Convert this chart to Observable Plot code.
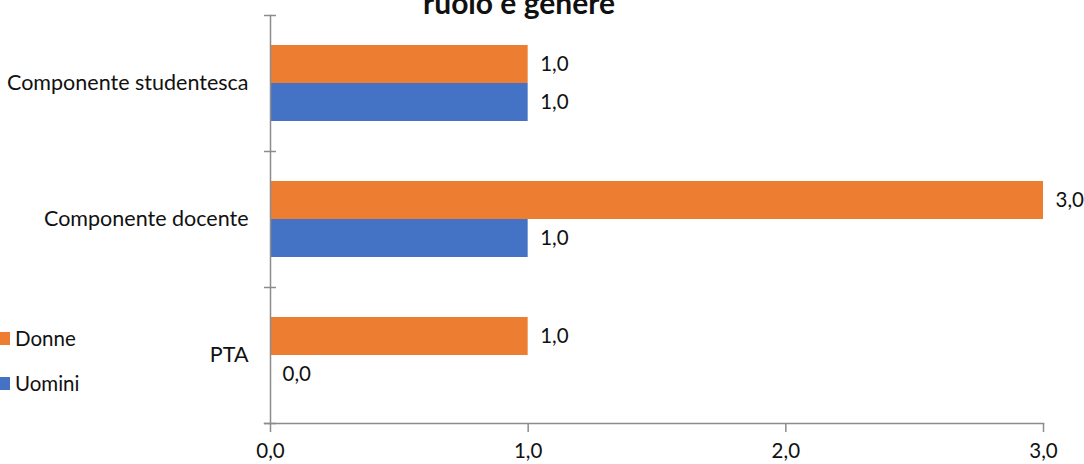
<!DOCTYPE html>
<html>
<head>
<meta charset="utf-8">
<script src="https://cdn.jsdelivr.net/npm/d3@7"></script>
<script src="https://cdn.jsdelivr.net/npm/@observablehq/plot@0.6"></script>
<style>
  html, body { margin: 0; padding: 0; background: #fff; overflow: hidden; }
  #wrap { position: relative; width: 1084px; height: 464px; font-family: Lato, "Open Sans", sans-serif; color: #111; }
  #title { position: absolute; left: 0; width: 1038px; top: -13px; text-align: center; font-weight: bold; font-size: 30px; line-height: 30px; }
  .leg { position: absolute; left: 15px; font-size: 20.5px; line-height: 20px; }
  .sw { position: absolute; left: -17px; top: 4px; width: 12px; height: 13px; }
</style>
</head>
<body>
<div id="wrap">
  <div id="chart"></div>
  <div id="title">ruolo e genere</div>
  <div class="leg" style="top:328px"><span class="sw" style="background:#ED7D31"></span>Donne</div>
  <div class="leg" style="top:373px"><span class="sw" style="background:#4472C4"></span>Uomini</div>
</div>
<script>
const categories = ["Componente studentesca", "Componente docente", "PTA"];
const donne = [1.0, 3.0, 1.0];
const uomini = [1.0, 1.0, 0.0];
const xTicks = [0, 1, 2, 3];
const genders = ["Donne", "Uomini"];
const colors = ["#ED7D31", "#4472C4"];

const rows = [];
categories.forEach((c, i) => {
  rows.push({cat: c, gen: "Donne", val: donne[i]});
  rows.push({cat: c, gen: "Uomini", val: uomini[i]});
});

const W = 1084, H = 464, ML = 270, MR = 41, MT = 15, MB = 41;
const step = (H - MT - MB) / categories.length;
const pxPerUnit = (W - ML - MR) / (xTicks[xTicks.length - 1] - xTicks[0]);
const tickU = 6 / pxPerUnit;
const fmt = d => d.toFixed(1).replace(".", ",");
const axisGray = "#8c8c8c";
const lastCat = categories[categories.length - 1];

const plot = Plot.plot({
  width: W, height: H,
  marginLeft: ML, marginRight: MR, marginTop: MT, marginBottom: MB,
  style: {fontFamily: "Lato, 'Open Sans', sans-serif", fontSize: "21px", color: "#111", background: "#fff"},
  x: {domain: [xTicks[0], xTicks[xTicks.length - 1]]},
  y: {domain: categories, padding: 0},
  color: {domain: genders, range: colors},
  marks: [
    Plot.barX(rows.filter(d => d.gen === "Donne"), {x: "val", y: "cat", fill: "gen", insetTop: 30, insetBottom: step - 68}),
    Plot.barX(rows.filter(d => d.gen === "Uomini"), {x: "val", y: "cat", fill: "gen", insetTop: 68, insetBottom: step - 106}),
    Plot.text(rows.filter(d => d.gen === "Donne"), {x: "val", y: "cat", text: d => fmt(d.val), dy: -(step / 2 - 49), dx: 12, textAnchor: "start", fontSize: 20.5}),
    Plot.text(rows.filter(d => d.gen === "Uomini"), {x: "val", y: "cat", text: d => fmt(d.val), dy: -(step / 2 - 87), dx: 12, textAnchor: "start", fontSize: 20.5}),
    Plot.frame({anchor: "left", stroke: axisGray, strokeWidth: 1.5}),
    Plot.frame({anchor: "bottom", stroke: axisGray, strokeWidth: 1.5, insetLeft: -6}),
    Plot.ruleY(categories, {y: d => d, dy: -step / 2, x1: -tickU, x2: tickU, stroke: axisGray, strokeWidth: 1.5}),
    Plot.ruleY([lastCat], {y: d => d, dy: step / 2, x1: -tickU, x2: tickU, stroke: axisGray, strokeWidth: 1.5}),
    Plot.ruleX(xTicks, {x: d => d, y: () => lastCat, insetTop: step - 6, stroke: axisGray, strokeWidth: 1.5}),
    Plot.axisY({tickSize: 0, tickPadding: 22, label: null, fontSize: 21.5}),
    Plot.axisX({ticks: xTicks, tickFormat: fmt, tickSize: 9, tickPadding: 11, stroke: axisGray, strokeWidth: 1.5, label: null, fontSize: 20.5})
  ]
});
document.getElementById("chart").appendChild(plot);
</script>
</body>
</html>
